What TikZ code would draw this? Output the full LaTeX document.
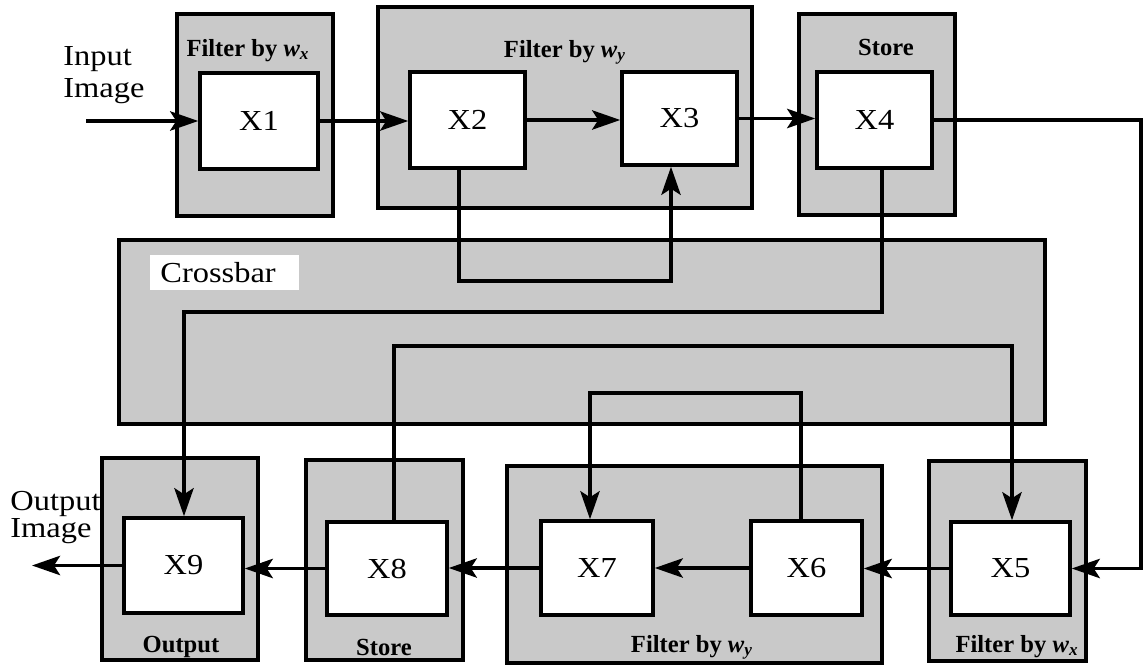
\documentclass[tikz,border=0pt]{standalone}
\usepackage{fontspec}
\setmainfont{Liberation Serif}[FakeStretch=1.12]
\newfontfamily\labfont{Liberation Serif}
\usetikzlibrary{arrows.meta,fit,calc}
\begin{document}
\begin{tikzpicture}[x=0.02cm,y=-0.02cm,
 gbox/.style={draw, line width=2pt, fill=black!21, inner sep=0pt},
 wbox/.style={draw, line width=2pt, fill=white, inner sep=0pt},
 xlab/.style={font={\fontsize{16.5}{18}\selectfont}, inner sep=0pt},
 conn/.style={line width=2pt},
 arr/.style={conn, -{Stealth[length=16pt,width=11pt,inset=3.5pt]}},
 lab/.style={font={\labfont\bfseries\fontsize{14}{16}\selectfont}, inner sep=0pt, anchor=base},
 txt/.style={font={\fontsize{16.5}{18}\selectfont}, inner sep=0pt, align=left, anchor=base west}]
\useasboundingbox (0,0) rectangle (1144,666);
% grey blocks
\node[gbox, fit={(177,14)(333,216)}] (g1) {};
\node[gbox, fit={(378,7)(752,208)}] (g2) {};
\node[gbox, fit={(799,14)(955,215)}] (g3) {};
\node[gbox, fit={(119,240)(1045,424)}] (cb) {};
\node[gbox, fit={(102,458)(258,660)}] (g9) {};
\node[gbox, fit={(306,460)(463,660)}] (g8) {};
\node[gbox, fit={(507,466)(882,663)}] (g67) {};
\node[gbox, fit={(929,461)(1086,661)}] (g5) {};
% white blocks
\node[wbox, fit={(200,73)(318,169)}, label={[xlab]center:X1}] (x1) {};
\node[wbox, fit={(410,72)(525,168)}, label={[xlab]center:X2}] (x2) {};
\node[wbox, fit={(622,72)(737,165)}, label={[xlab]center:X3}] (x3) {};
\node[wbox, fit={(817,72)(932,168)}, label={[xlab]center:X4}] (x4) {};
\node[wbox, fit={(124,518)(243,613)}, label={[xlab]center:X9}] (x9) {};
\node[wbox, fit={(327,522)(447,615)}, label={[xlab]center:X8}] (x8) {};
\node[wbox, fit={(541,521)(653,615)}, label={[xlab]center:X7}] (x7) {};
\node[wbox, fit={(751,521)(862,615)}, label={[xlab]center:X6}] (x6) {};
\node[wbox, fit={(951,522)(1070,615)}, label={[xlab]center:X5}] (x5) {};
% labels
\node[lab] (l1) at (248,56) {Filter by \textit{w}\textsubscript{\textit{x}}};
\node[lab] (l2) at (565,57) {Filter by \textit{w}\textsubscript{\textit{y}}};
\node[lab] (l3) at (886,55) {Store};
\node[lab] (l9) at (181,652) {Output};
\node[lab] (l8) at (384,655) {Store};
\node[lab] (l67) at (692,652) {Filter by \textit{w}\textsubscript{\textit{y}}};
\node[lab] (l5) at (1017,652) {Filter by \textit{w}\textsubscript{\textit{x}}};
\node[fill=white, inner sep=0pt, fit={(150,255)(299,290)}] (cbw) {};
\node[txt] (cbt) at (160,282) {Crossbar};
\node[txt] (inl) at (63,97) {Input\\Image};
\node[txt, font={\fontsize{16.5}{13}\selectfont}] (outl) at (10,537) {Output\\Image};
% coordinates
\coordinate (in) at (86,121);
\coordinate (out) at (32,570);
\coordinate (rc) at (1141,345);
\coordinate (b1) at (459,281);
\coordinate (b2) at (671,281);
\coordinate (c1) at (882,312);
\coordinate (c2) at (184,312);
\coordinate (d1) at (394,346);
\coordinate (d2) at (1012,346);
\coordinate (e1) at (801,393);
\coordinate (e2) at (590,393);
% connectors
\draw[arr] (in) -- (in -| x1.west);
\draw[arr] (x1.east) -- (x1.east -| x2.west);
\draw[arr] (x2.east) -- (x2.east -| x3.west);
\draw[arr] (x3.east) -- (x3.east -| x4.west);
\draw[arr] (x4.east) -| (rc) |- (x5.east);
\draw[arr] (x5.west) -- (x5.west -| x6.east);
\draw[arr] (x6.west) -- (x6.west -| x7.east);
\draw[arr] (x7.west) -- (x7.west -| x8.east);
\draw[arr] (x8.west) -- (x8.west -| x9.east);
\draw[arr] (x9.west) -- (x9.west -| out);
\draw[arr] (x2.south -| b1) -- (b1) -- (b2) -- (x3.south -| b2);
\draw[arr] (x4.south -| c1) -- (c1) -- (c2) -- (x9.north -| c2);
\draw[arr] (x8.north -| d1) -- (d1) -- (d2) -- (x5.north -| d2);
\draw[arr] (x6.north -| e1) -- (e1) -- (e2) -- (x7.north -| e2);
\end{tikzpicture}
\end{document}
